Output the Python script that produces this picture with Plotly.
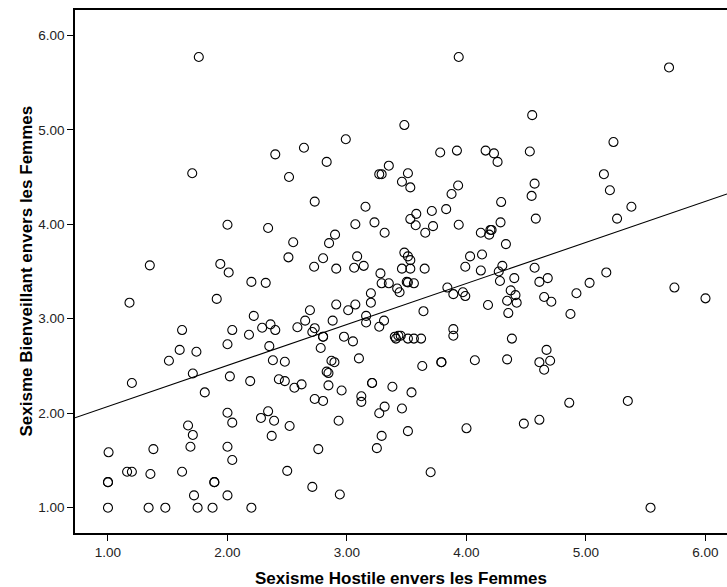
import plotly.graph_objects as go

# Sexisme Hostile (x) vs Sexisme Bienveillant (y)
hostile = [
    1.76, 2.40, 1.705, 2.515, 2.00, 2.34, 2.51, 1.35, 1.94, 2.01,
    2.20, 2.32, 1.18, 1.91, 2.22, 1.62, 2.04, 2.29, 2.36, 2.40,
    2.18, 2.00, 1.60, 1.74, 2.35, 1.51, 2.38, 2.48, 1.20, 1.71,
    2.02, 2.19, 2.43, 2.48, 1.81, 2.00, 2.04, 2.34, 2.28, 2.39,
    2.52, 1.67, 1.71, 1.69, 2.37, 1.005, 1.38, 2.00, 2.04, 1.16,
    1.20, 1.355, 1.62, 2.50, 1.00, 1.00, 1.89, 1.89, 1.72, 2.00,
    1.00, 1.34, 1.48, 1.75, 1.875, 2.20,
    3.935, 3.48, 2.99, 2.64, 2.83, 3.78, 3.92, 4.16, 4.23, 4.26,
    3.27, 3.29, 3.35, 3.51, 3.46, 3.53, 3.93, 3.875, 2.73, 3.155,
    4.29, 3.58, 3.71, 3.83, 3.53, 3.575, 3.72, 3.655, 3.935, 3.07,
    3.23, 3.315, 2.90, 2.85, 2.55, 2.80, 3.085, 3.14, 3.06, 2.91,
    2.725, 3.28, 3.46, 3.53, 3.65, 3.48, 3.51, 3.53, 4.12, 4.19,
    4.20, 4.21, 4.285, 4.33, 4.03, 4.13, 3.99, 4.12, 4.30, 4.27,
    5.695, 4.55, 5.23, 4.53, 5.15, 4.57, 5.20, 4.545, 5.38, 4.58,
    5.26, 4.57, 5.17,
    4.40, 4.28, 4.61, 4.68, 5.03, 5.74, 6.00, 4.37, 4.41, 4.34,
    4.42, 4.65, 4.71, 4.92, 4.87, 4.35, 4.38, 4.34, 4.67, 4.61,
    4.70, 4.65, 4.86, 5.35, 4.48, 4.61, 5.54,
    3.29, 3.35, 3.42, 3.44, 3.50, 3.51, 3.56, 3.84, 3.89, 3.97,
    3.99, 4.18, 3.20, 3.20, 3.07, 3.01, 2.91, 2.69, 2.65, 2.585,
    2.73, 2.71, 2.88, 3.16, 3.16, 3.31, 3.27, 3.64, 2.80, 2.80,
    2.975, 3.05, 2.78, 3.40, 3.41, 3.43, 3.45, 3.51, 3.56, 3.62,
    3.89, 3.89, 2.87, 2.895, 3.10, 3.63, 3.79, 3.79, 4.07, 2.56,
    2.62, 2.83, 2.845, 2.845, 2.955, 3.21, 3.21, 3.38, 3.54, 2.73,
    2.80, 3.12, 3.12, 3.315, 3.27, 3.46, 2.93, 3.51, 4.00, 3.29,
    2.76, 3.25, 3.70, 2.71, 2.94,
]
bienveillant = [
    5.77, 4.74, 4.54, 4.50, 3.995, 3.96, 3.65, 3.565, 3.58, 3.49,
    3.39, 3.38, 3.17, 3.21, 3.03, 2.88, 2.88, 2.905, 2.94, 2.88,
    2.83, 2.73, 2.67, 2.65, 2.71, 2.555, 2.56, 2.545, 2.32, 2.42,
    2.39, 2.34, 2.36, 2.34, 2.22, 2.005, 1.90, 2.02, 1.95, 1.92,
    1.865, 1.87, 1.77, 1.645, 1.76, 1.586, 1.62, 1.645, 1.505, 1.38,
    1.38, 1.357, 1.38, 1.39, 1.27, 1.27, 1.27, 1.27, 1.13, 1.13,
    1.00, 1.00, 1.00, 1.00, 1.00, 1.00,
    5.77, 5.05, 4.90, 4.81, 4.66, 4.76, 4.78, 4.78, 4.75, 4.66,
    4.53, 4.53, 4.62, 4.54, 4.45, 4.39, 4.41, 4.32, 4.24, 4.185,
    4.235, 4.11, 4.14, 4.16, 4.055, 3.99, 3.98, 3.91, 3.995, 4.00,
    4.02, 3.91, 3.89, 3.80, 3.81, 3.64, 3.66, 3.56, 3.54, 3.53,
    3.55, 3.48, 3.53, 3.53, 3.53, 3.70, 3.66, 3.62, 3.91, 3.89,
    3.94, 3.94, 4.02, 3.79, 3.66, 3.68, 3.55, 3.51, 3.56, 3.50,
    5.66, 5.155, 4.87, 4.77, 4.53, 4.43, 4.36, 4.30, 4.185, 4.06,
    4.06, 3.54, 3.49,
    3.43, 3.40, 3.39, 3.43, 3.38, 3.33, 3.216, 3.30, 3.25, 3.19,
    3.17, 3.23, 3.18, 3.27, 3.05, 3.06, 2.79, 2.57, 2.67, 2.54,
    2.555, 2.46, 2.11, 2.13, 1.89, 1.93, 1.00,
    3.375, 3.375, 3.32, 3.28, 3.39, 3.385, 3.375, 3.33, 3.26, 3.28,
    3.24, 3.145, 3.27, 3.17, 3.15, 3.09, 3.15, 3.09, 2.98, 2.91,
    2.90, 2.86, 2.98, 3.03, 2.96, 2.98, 2.915, 3.08, 2.81, 2.81,
    2.81, 2.76, 2.69, 2.81, 2.79, 2.82, 2.82, 2.79, 2.79, 2.79,
    2.89, 2.82, 2.555, 2.54, 2.58, 2.50, 2.54, 2.54, 2.56, 2.27,
    2.305, 2.44, 2.425, 2.295, 2.24, 2.32, 2.32, 2.28, 2.22, 2.15,
    2.13, 2.18, 2.12, 2.07, 2.00, 2.05, 1.92, 1.81, 1.84, 1.76,
    1.62, 1.63, 1.375, 1.22, 1.14,
]

# Fit line (intercept, slope)
fit_intercept = 1.638
fit_slope = 0.434

tick_values = [1, 2, 3, 4, 5, 6]
tick_labels = ["1.00", "2.00", "3.00", "4.00", "5.00", "6.00"]

x_title = "Sexisme Hostile envers les Femmes"
y_title = "Sexisme Bienveillant envers les Femmes"

x_range = [0.724, 6.18]
y_range = [0.732, 6.268]

fig = go.Figure()
fig.add_trace(go.Scatter(
    x=hostile, y=bienveillant, mode="markers",
    marker=dict(symbol="circle-open", size=9, color="black", line=dict(width=1.1, color="black")),
    showlegend=False, hoverinfo="x+y",
))
fig.add_trace(go.Scatter(
    x=x_range, y=[fit_intercept + fit_slope * v for v in x_range],
    mode="lines", line=dict(color="black", width=1.1),
    showlegend=False, hoverinfo="skip",
))

font_family = "Liberation Sans, Arial, sans-serif"
fig.update_layout(
    width=727, height=587,
    margin=dict(l=75, r=0, t=10, b=54, autoexpand=False),
    paper_bgcolor="white", plot_bgcolor="white",
    font=dict(family=font_family, color="black", size=13),
)
axis_common = dict(
    tickvals=tick_values, ticktext=tick_labels,
    showgrid=False, zeroline=False,
    showline=True, linecolor="black", linewidth=1.5,
    ticks="outside", ticklen=6, tickwidth=1, tickcolor="black",
    tickfont=dict(size=13.5, color="#222"),
    automargin=False,
)
fig.update_xaxes(range=x_range, mirror=True, **axis_common)
fig.update_yaxes(range=y_range, **axis_common)

fig.add_annotation(
    text="<b>" + x_title + "</b>", xref="paper", yref="paper",
    x=0.5, y=0, xanchor="center", yanchor="middle", yshift=-45,
    showarrow=False, font=dict(size=17, family=font_family, color="black"),
)
fig.add_annotation(
    text="<b>" + y_title + "</b>", xref="paper", yref="paper",
    x=0, y=0.5, xanchor="center", yanchor="middle", xshift=-49,
    textangle=-90, showarrow=False,
    font=dict(size=17, family=font_family, color="black"),
)

fig.write_html(
    "out.html",
    config={"displayModeBar": False},
    post_script="document.body.style.margin='0';document.body.style.overflow='hidden';",
)
